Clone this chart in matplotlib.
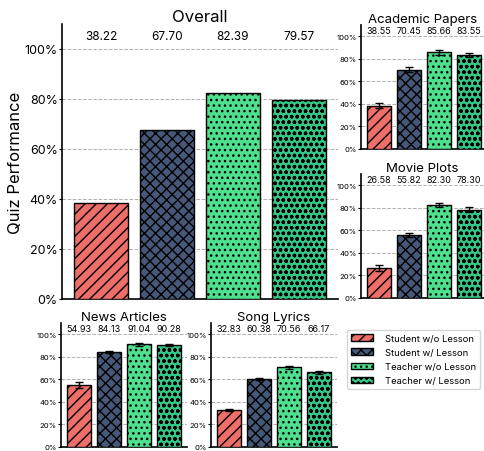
import matplotlib
matplotlib.use("Agg")
import matplotlib.pyplot as plt
from matplotlib.ticker import PercentFormatter

plt.rcParams['font.family'] = ['Inter', 'DejaVu Sans']
plt.rcParams['hatch.linewidth'] = 1.0

conditions = ["Student w/o Lesson", "Student w/ Lesson", "Teacher w/o Lesson", "Teacher w/ Lesson"]
colors = ["#EE6E6A", "#465878", "#4FE08F", "#33C887"]
hatches = ["///", "xxx", "...", "ooo"]

overall = [38.22, 67.70, 82.39, 79.57]

academic = [38.55, 70.45, 85.66, 83.55]
academic_err = [2.5, 2.0, 2.0, 2.0]
movie = [26.58, 55.82, 82.30, 78.30]
movie_err = [2.5, 2.0, 2.0, 2.0]
news = [54.93, 84.13, 91.04, 90.28]
news_err = [2.5, 1.0, 1.2, 1.0]
song = [32.83, 60.38, 70.56, 66.17]
song_err = [1.3, 1.2, 1.5, 1.2]

W, H = 484, 452
fig = plt.figure(figsize=(W / 100, H / 100), dpi=100)


def px_axes(left, top, right, bottom):
    return fig.add_axes([left / W, 1 - bottom / H, (right - left) / W, (bottom - top) / H])


def draw_panel(ax, title, values, errs, tick_fs, label_fs, title_fs, xmax):
    x = range(len(values))
    bars = ax.bar(x, values, width=0.82, color=colors, edgecolor="black", linewidth=1.0,
                  yerr=errs, capsize=3 if errs else 0,
                  error_kw=dict(ecolor="black", elinewidth=1.0, capthick=1.0), zorder=3)
    for b, h in zip(bars, hatches):
        b.set_hatch(h)
    for xi, v in zip(x, values):
        ax.text(xi, 105, f"{v:.2f}", ha="center", va="center", fontsize=label_fs)
    ax.set_ylim(0, 110)
    ax.set_xlim(-0.6, xmax)
    ax.set_yticks([0, 20, 40, 60, 80, 100])
    ax.yaxis.set_major_formatter(PercentFormatter(decimals=0))
    ax.tick_params(axis="y", labelsize=tick_fs, length=2, width=0.8, pad=1)
    ax.set_xticks([])
    ax.grid(axis="y", linestyle="--", color="#b0b0b0", linewidth=0.7, zorder=0)
    ax.spines["top"].set_visible(False)
    ax.spines["right"].set_visible(False)
    ax.spines["left"].set_linewidth(1.2)
    ax.spines["bottom"].set_linewidth(1.2)
    ax.set_title(title, fontsize=title_fs, pad=2)
    return bars


ax0 = px_axes(62, 25, 338, 300)
bars = draw_panel(ax0, "Overall", overall, None, 9, 8.5, 12, 3.6)
ax0.set_ylabel("Quiz Performance", fontsize=12, labelpad=1)

ax1 = px_axes(361, 26, 484, 150)
draw_panel(ax1, "Academic Papers", academic, academic_err, 5.5, 6.5, 9.5, 3.5)

ax2 = px_axes(361, 175, 484, 299)
draw_panel(ax2, "Movie Plots", movie, movie_err, 5.5, 6.5, 9.5, 3.5)

ax3 = px_axes(61, 324, 187, 448)
draw_panel(ax3, "News Articles", news, news_err, 5.5, 6.5, 9.5, 3.6)

ax4 = px_axes(211, 324, 337, 448)
draw_panel(ax4, "Song Lyrics", song, song_err, 5.5, 6.5, 9.5, 3.6)

fig.legend(bars, conditions, loc="upper left", bbox_to_anchor=(347 / W, 1 - 331 / H),
           fontsize=6.8, handlelength=2.3, handleheight=0.7, borderpad=0.4,
           labelspacing=0.55, handletextpad=1.35, borderaxespad=0.0,
           frameon=True, edgecolor="#cccccc")

fig.savefig("out.png", dpi=100)
